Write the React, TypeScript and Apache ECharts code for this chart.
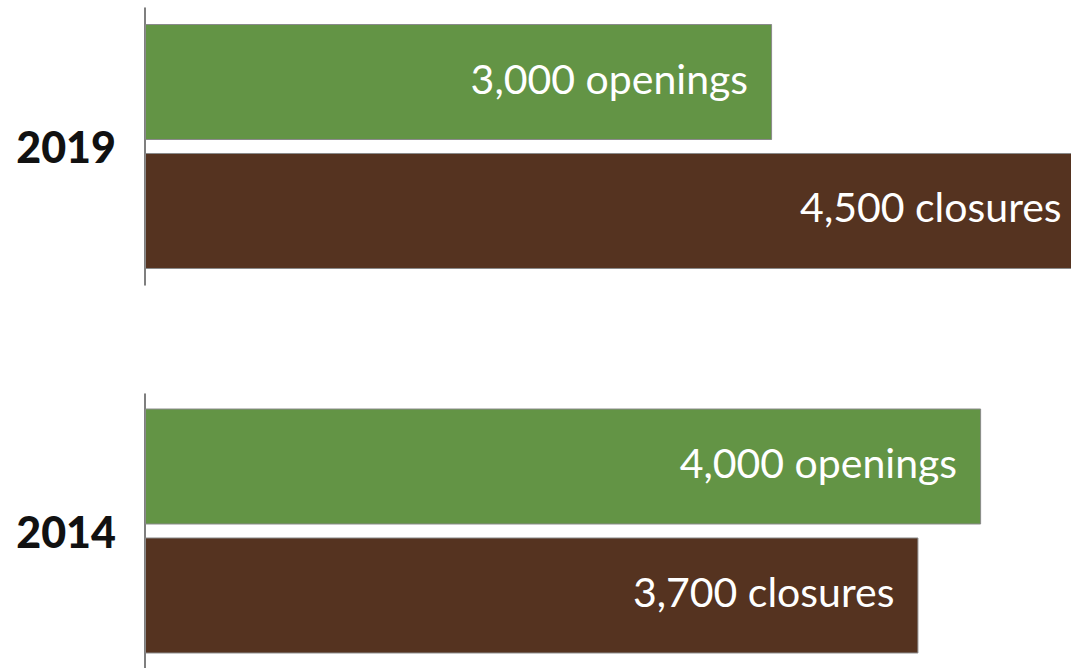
import React, { useEffect, useRef } from "react";
import * as echarts from "echarts";

const years = ["2019", "2014"];
const openings = [3000, 4000];
const closures = [4500, 3700];
const openingLabel = "openings";
const closureLabel = "closures";

const GREEN = "#639445";
const BROWN = "#553320";

function fmt(v: number) {
  return v.toLocaleString("en-US");
}

export default function App() {
  const ref = useRef<HTMLDivElement>(null);
  useEffect(() => {
    if (!ref.current) return;
    const chart = echarts.init(ref.current, undefined, { renderer: "svg" });
    const gridTops = [8, 394];
    const grids = gridTops.map((t) => ({ left: 145, right: 0, top: t, height: 277, containLabel: false }));
    const xAxes = years.map((_, i) => ({
      type: "value",
      gridIndex: i,
      min: 0,
      max: 4430,
      show: false,
    }));
    const yAxes = years.map((y, i) => ({
      type: "category",
      gridIndex: i,
      data: [y],
      axisLine: { show: true, lineStyle: { color: "#555", width: 1.5 } },
      axisTick: { show: false },
      axisLabel: {
        margin: 29,
        fontFamily: "Lato",
        fontWeight: 900,
        fontSize: 43,
        color: "#111",
      },
    }));
    const labelStyle = (suffix: string) => ({
      show: true,
      position: "insideRight",
      distance: 24,
      offset: [0, -4],
      color: "#fff",
      fontFamily: "Lato",
      fontWeight: 400,
      fontSize: 41,
      formatter: (p: any) => `${fmt(p.value)} ${suffix}`,
    });
    const series: any[] = [];
    years.forEach((_, i) => {
      series.push({
        type: "bar",
        name: "openings",
        xAxisIndex: i,
        yAxisIndex: i,
        data: [openings[i]],
        barWidth: 116,
        barGap: "11.2%",
        clip: false,
        itemStyle: { color: GREEN, borderColor: "#8a8a8a", borderWidth: 1 },
        label: labelStyle(openingLabel),
      });
      series.push({
        type: "bar",
        name: "closures",
        xAxisIndex: i,
        yAxisIndex: i,
        data: [closures[i]],
        barWidth: 116,
        barGap: "11.2%",
        clip: false,
        itemStyle: { color: BROWN, borderColor: "#8a8a8a", borderWidth: 1 },
        label: labelStyle(closureLabel),
      });
    });
    chart.setOption({
      animation: false,
      grid: grids,
      xAxis: xAxes,
      yAxis: yAxes,
      series,
    });
    return () => chart.dispose();
  }, []);
  return (
    <div
      ref={ref}
      style={{ position: "absolute", left: 0, top: 0, width: 1071, height: 668 }}
    />
  );
}
